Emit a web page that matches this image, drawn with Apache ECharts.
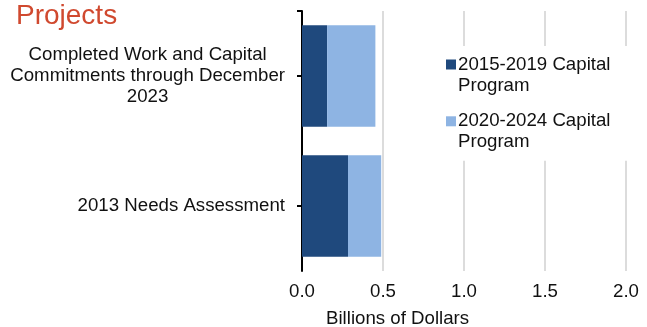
<!DOCTYPE html>
<html>
<head>
<meta charset="utf-8">
<script src="https://cdn.jsdelivr.net/npm/echarts@6/dist/echarts.min.js"></script>
<style>
  html, body { margin: 0; padding: 0; background: #fff; }
  #chart { width: 647px; height: 327px; }
</style>
</head>
<body>
<div id="chart"></div>
<script>
// Project cost breakdown by capital program (billions of dollars)
const categories = [
  'Completed Work and Capital\nCommitments through December\n2023',
  '2013 Needs Assessment'
];
const seriesNames = ['2015-2019 Capital\nProgram', '2020-2024 Capital\nProgram'];
const program2015 = [0.155, 0.284];
const program2020 = [0.298, 0.205];
const xMin = 0;
const xMax = 2;
const xStep = 0.5;

const FONT = 'Liberation Sans, Arial, sans-serif';
const FS = 18.67;
const LH = 21;
const TEXT = '#111';

const chart = echarts.init(document.getElementById('chart'), null, { renderer: 'canvas' });

chart.setOption({
  animation: false,
  backgroundColor: '#fff',
  title: [
    {
      text: 'Projects',
      left: 16, top: 2, padding: 0,
      textStyle: { fontFamily: FONT, fontSize: 28, fontWeight: 'normal', color: '#D0492F' }
    },
    {
      text: 'Billions of Dollars',
      left: 326, top: 308, padding: 0,
      textStyle: { fontFamily: FONT, fontSize: FS, fontWeight: 'normal', color: TEXT, lineHeight: LH }
    }
  ],
  legend: {
    orient: 'vertical',
    left: 440, top: 46,
    padding: [-13, 40, 8, 6],
    backgroundColor: '#fff',
    itemWidth: 10, itemHeight: 10,
    itemGap: -6.2,
    icon: 'rect',
    selectedMode: false,
    data: seriesNames,
    // a blank first line keeps the icon level with the first text line
    formatter: name => '{s| }\n{t|' + name.split('\n').join('}\n{t|') + '}',
    textStyle: {
      fontFamily: FONT, fontSize: FS, color: TEXT, lineHeight: LH,
      padding: [0, 0, 0, -3],
      rich: {
        s: { fontFamily: FONT, fontSize: FS, lineHeight: LH },
        t: { fontFamily: FONT, fontSize: FS, lineHeight: LH, color: TEXT }
      }
    }
  },
  grid: {
    left: 302, right: 21, top: 11, bottom: 56,
    containLabel: false,
    outerBoundsMode: 'none'
  },
  xAxis: {
    type: 'value',
    min: xMin, max: xMax, interval: xStep,
    axisLine: { show: false },
    axisTick: { show: false },
    axisLabel: {
      margin: 10,
      fontFamily: FONT, fontSize: FS, color: TEXT, lineHeight: LH,
      formatter: v => v.toFixed(1)
    },
    splitLine: { show: true, lineStyle: { color: '#dcdcdc', width: 2 } }
  },
  yAxis: [
    {
      type: 'category',
      data: categories,
      inverse: true,
      axisLine: { show: true, lineStyle: { color: '#000', width: 2 } },
      axisTick: { show: true, alignWithLabel: true, length: 5, lineStyle: { color: '#000', width: 2 } },
      splitLine: { show: false },
      axisLabel: {
        margin: 17,
        align: 'right',
        fontFamily: FONT, fontSize: FS, color: TEXT, lineHeight: LH,
        formatter: v => v.indexOf('\n') >= 0
          ? v.split('\n').map(l => '{c|' + l + '}').join('\n')
          : v,
        rich: {
          c: { align: 'center', fontFamily: FONT, fontSize: FS, color: TEXT, lineHeight: LH }
        }
      }
    },
    {
      // end-cap tick at the top of the category axis
      type: 'value',
      position: 'left',
      inverse: true,
      min: 0, max: 1,
      axisLine: { show: false },
      axisLabel: { show: false },
      splitLine: { show: false },
      axisTick: { show: true, customValues: [0], length: 5, lineStyle: { color: '#000', width: 2 } }
    }
  ],
  series: [
    {
      name: seriesNames[0],
      type: 'bar',
      stack: 'total',
      barWidth: '78%',
      itemStyle: { color: '#1F497D' },
      data: program2015
    },
    {
      name: seriesNames[1],
      type: 'bar',
      stack: 'total',
      barWidth: '78%',
      itemStyle: { color: '#8EB4E3' },
      data: program2020
    }
  ]
});
</script>
</body>
</html>
